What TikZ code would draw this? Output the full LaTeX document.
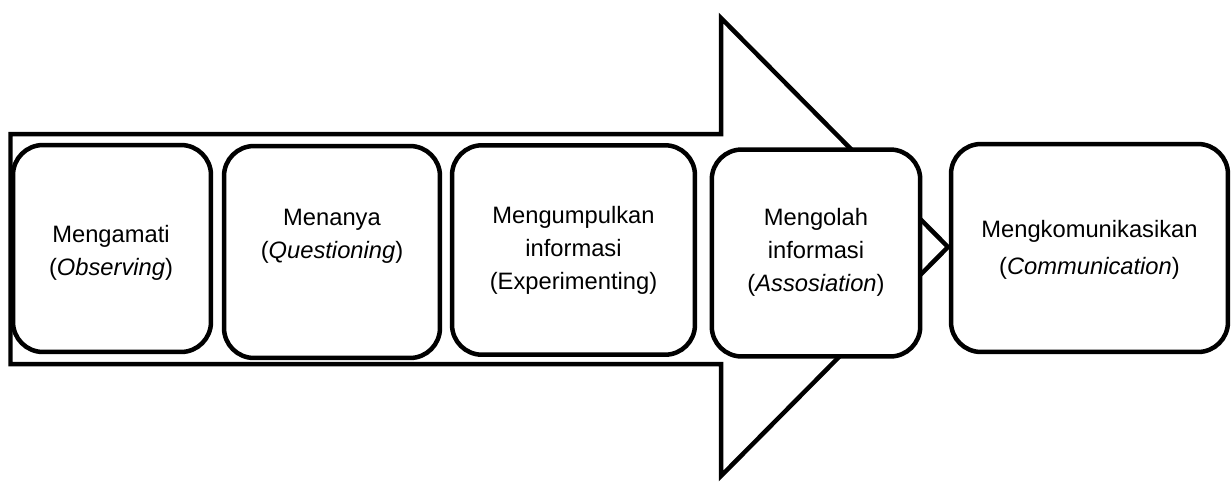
\documentclass[tikz,border=0pt]{standalone}
\usepackage{fontspec}
\setmainfont{Liberation Sans}
\usetikzlibrary{positioning}

\begin{document}
\begin{tikzpicture}[x=0.02cm,y=-0.02cm,
      stage style/.style={rectangle,draw=black,fill=white,line width=0.09cm,
        rounded corners=0.6cm},
      label style/.style={align=center,inner sep=0pt,
        font=\fontsize{13.5}{18.8}\selectfont}
      ]
      \useasboundingbox (0,0) rectangle (1231,481);

      \draw[line width=0.09cm,fill=white,line join=miter] (10.5,134) -- (721,134)
        -- (721,18) -- (948,247) -- (721,476) -- (721,364) -- (10.5,364) -- cycle;

      \node[stage style, minimum width=3.96cm, minimum height=4.14cm] (observe) at (112,248.5) {};
      \node[stage style, minimum width=4.32cm, minimum height=4.24cm] (question) at (332,252) {};
      \node[stage style, minimum width=4.86cm, minimum height=4.19cm] (experiment) at (573.5,250) {};
      \node[stage style, minimum width=4.17cm, minimum height=4.14cm] (associate) at (816,253) {};
      \node[stage style, minimum width=5.54cm, minimum height=4.16cm] (communicate) at (1089.5,248) {};

      \node[label style] (observe text) at (111,253) {Mengamati\\(\textit{Observing})};
      \node[label style] (question text) at (332,236.5) {Menanya\\(\textit{Questioning})};
      \node[label style] (experiment text) at (573.5,250) {Mengumpulkan\\informasi\\(Experimenting)};
      \node[label style] (associate text) at (816,252.5) {Mengolah\\informasi\\(\textit{Assosiation})};
      \node[label style, font=\fontsize{13.5}{21}\selectfont] (communicate text) at (1089.5,249.5)
        {Mengkomunikasikan\\(\textit{Communication})};
    \end{tikzpicture}
\end{document}
